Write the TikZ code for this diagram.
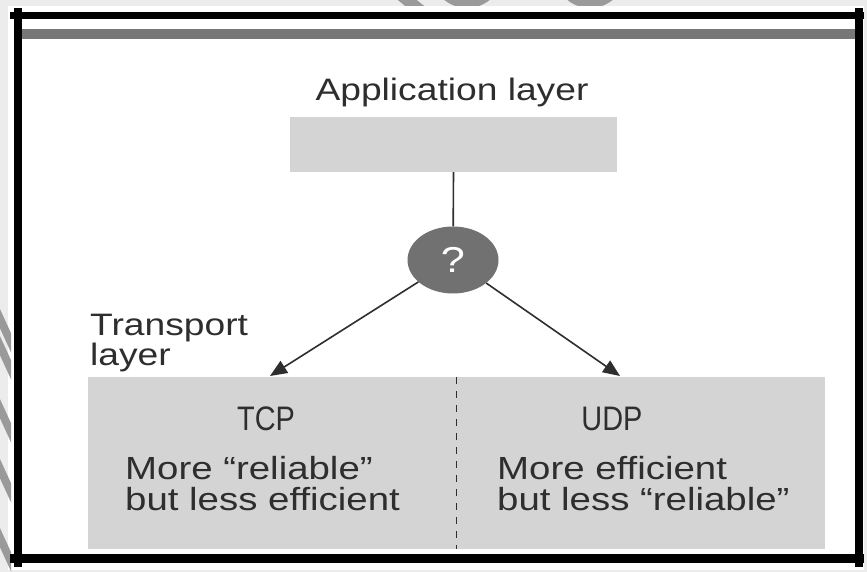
\documentclass[tikz,border=0pt]{standalone}
\usepackage{fontspec}
\setmainfont{Liberation Sans}[FakeStretch=1.2]
\newfontfamily\condfont{Liberation Sans}[FakeStretch=0.85]
\usepackage{tikz}
\usepackage{xcolor}
\usetikzlibrary{arrows.meta,positioning,shapes.geometric}
\definecolor{tlink}{HTML}{2E2E2E}
\definecolor{tlbg}{HTML}{ECECEC}
\definecolor{tlbar}{HTML}{777777}
\definecolor{tlfill}{HTML}{D4D4D4}
\definecolor{tlknob}{HTML}{717171}
\definecolor{tlwm}{HTML}{9A9A9A}

\begin{document}
\begin{tikzpicture}[x=1pt, y=1pt,
  greybox/.style={draw=none, fill=tlfill, inner sep=0pt},
  lbl/.style={font=\fontsize{31}{30}\selectfont\color{tlink}, inner sep=0pt},
  desc/.style={font=\fontsize{32}{31}\selectfont\color{tlink}, inner sep=0pt, align=left},
  proto/.style={font=\condfont\fontsize{34}{34}\selectfont\color{tlink}, inner sep=0pt},
  link/.style={draw=tlink, line width=1.6pt},
  arr/.style={link, -{Triangle[length=17pt,width=14pt]}},
  frameline/.style={draw=black, line cap=butt},
]
\useasboundingbox (0,0) rectangle (867,572);
\fill[tlbg] (0,0) rectangle (867,572);
\fill[white] (8,2) rectangle (864,566);

% watermark bits left in the margins
\begin{scope}
  \clip (0,566) rectangle (867,572);
  \fill[tlwm] (467,600) circle (36);
  \fill[tlwm] (590,600) circle (36);
  \draw[tlwm, line width=12pt] (395,582) -- (422,560);
\end{scope}
\begin{scope}
  \clip (0,0) rectangle (11,300);
  \foreach \s in {262,235,172,112,43}
    \draw[tlwm, line width=8pt] (-4,\s) -- (18,\s-48);
\end{scope}

% frame and top rule
\draw[frameline, line width=7pt] (10,556) -- (864,556);
\draw[frameline, line width=9pt] (10,13) -- (864,13);
\draw[frameline, line width=7.5pt] (18,564) -- (18,5);
\draw[frameline, line width=7.5pt] (859,564) -- (859,5);
\fill[tlbar] (22,533) rectangle (855,543);

% application layer
\node[lbl, anchor=base] (applabel) at (452,471) {Application layer};
\node[greybox, minimum width=327, minimum height=55] (appbox) at (453.5,427.5) {};
\node[ellipse, fill=tlknob, minimum width=91, minimum height=67, inner sep=0pt,
      font=\fontsize{36}{36}\selectfont\color{white}] (qmark) at (453,312) {?};
\draw[link] (appbox.south) -- (qmark);

% transport layer
\node[lbl, anchor=south west, align=left] (trlabel) at (90,200) {Transport\\layer};
\node[greybox, minimum width=737, minimum height=172] (trbox) at (456.5,109) {};
\draw[link, dash pattern=on 7pt off 7pt] (trbox.north) -- (trbox.south);

\coordinate (tcptip) at (270,196);
\coordinate (udptip) at (620,196);
\draw[arr] (qmark) -- (tcptip);
\draw[arr] (qmark) -- (udptip);

\node[proto, anchor=base] (tcp) at (266,141) {TCP};
\node[proto, anchor=base] (udp) at (612,141) {UDP};
\node[desc, anchor=south west] (tcpdesc) at (125,61) {More “reliable”\\but less efficient};
\node[desc, anchor=south west] (udpdesc) at (497,61) {More efficient\\but less “reliable”};
\end{tikzpicture}
\end{document}
